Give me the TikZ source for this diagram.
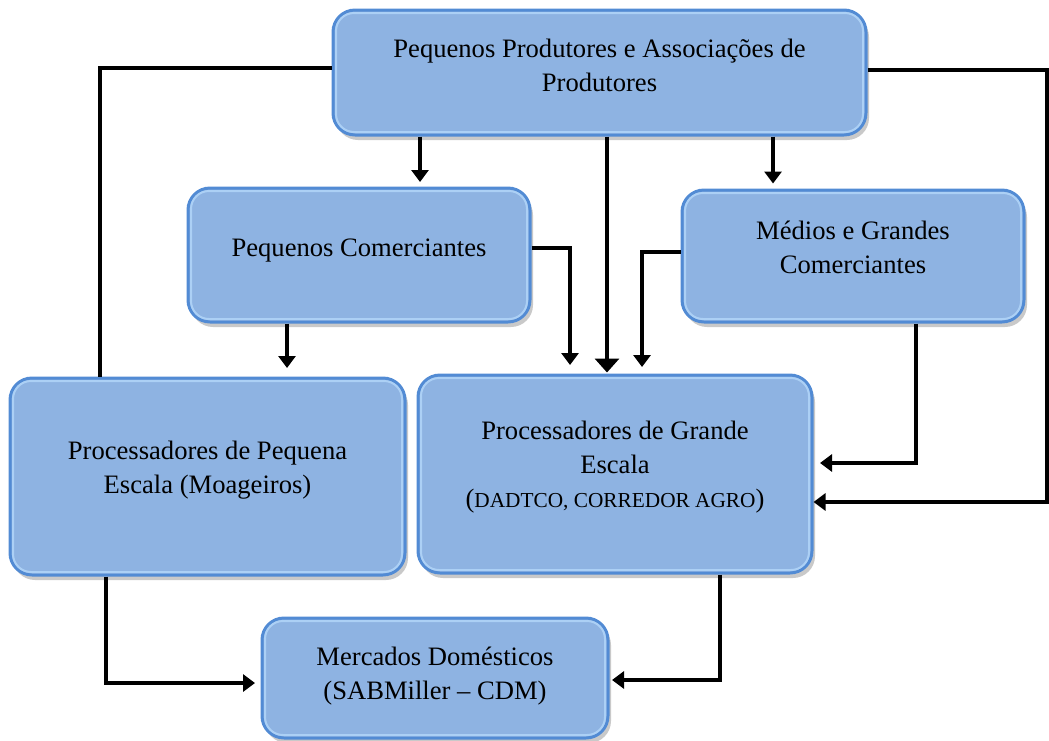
\documentclass[tikz,border=0pt]{standalone}
\usepackage{fontspec}
\setmainfont{Liberation Serif}
\usetikzlibrary{arrows.meta,shadows,calc}
\definecolor{boxfill}{RGB}{142,179,226}
\definecolor{boxedge}{RGB}{82,139,212}
\definecolor{boxglow}{RGB}{172,208,245}
\newcommand{\boxlbl}[2]{\raisebox{#1}[\height][\depth]{\begin{tabular}{@{}c@{}}#2\end{tabular}}}
\begin{document}
\begin{tikzpicture}[x=1pt,y=-1pt,
  box/.style={draw=boxedge, line width=3pt, fill=boxfill, rounded corners=22pt,
    drop shadow={shadow xshift=3pt,shadow yshift=-5pt,opacity=0.3,fill=black!70},
    font=\fontsize{26.6}{34}\selectfont, inner sep=0pt},
  glow/.style={draw=boxglow, line width=2pt, rounded corners=18pt},
  conn/.style={line width=4pt, draw=black},
  arr/.style={conn, -{Triangle[width=17pt,length=12pt]}},
  bigarr/.style={conn, -{Triangle[width=24pt,length=14pt]}}
]
\useasboundingbox (0,0) rectangle (1049,740);

\node[box, minimum width=533, minimum height=125] (pp) at (599.5,72.5)
  {\boxlbl{5pt}{Pequenos Produtores e Associações de\\Produtores}};
\node[box, minimum width=342, minimum height=134] (pc) at (359,255)
  {\boxlbl{5pt}{Pequenos Comerciantes}};
\node[box, minimum width=342, minimum height=132] (mg) at (853,256)
  {\boxlbl{6pt}{Médios e Grandes\\Comerciantes}};
\node[box, minimum width=395, minimum height=197] (ps) at (207.5,476.5)
  {\boxlbl{6.5pt}{Processadores de Pequena\\Escala (Moageiros)}};
\node[box, minimum width=394, minimum height=198] (pg) at (615,474)
  {\boxlbl{7pt}{Processadores de Grande\\Escala\\({\fontsize{21.3}{26}\selectfont DADTCO, CORREDOR AGRO})}};
\node[box, minimum width=346, minimum height=120] (md) at (435,678)
  {\boxlbl{2.5pt}{Mercados Domésticos\\(SABMiller – CDM)}};

\foreach \n in {pp,pc,mg,ps,pg,md}
  \draw[glow] ([shift={(4.5,4.5)}]\n.north west) rectangle ([shift={(-4.5,-4.5)}]\n.south east);

\coordinate (R1) at (1047,70);
\coordinate (R2) at (1047,502);

% producers to small processors (no arrow head)
\draw[conn] ($(pp.west)+(0,-4.5)$) -| ($(ps.north west)+(91.5,0)$);
% producers to large processors via right edge
\draw[arr] ($(pp.east)+(0,-2.5)$) -- (R1) -- (R2) -- (pg.east |- R2);
% producers downwards
\draw[arr, shorten >=4.5pt] ($(pp.south)+(-179.5,0)$) -- ($(pc.north)+(61,0)$);
\draw[bigarr, shorten >=1pt] ($(pp.south)+(7.5,0)$) -- ($(pg.north)+(-8,0)$);
\draw[arr, shorten >=5pt] ($(pp.south)+(173.5,0)$) -- ($(mg.north)+(-80,0)$);
% small traders
\draw[arr, shorten >=8.5pt] ($(pc.east)+(0,-7)$) -| ($(pg.north)+(-45,0)$);
\draw[arr, shorten >=8.5pt] ($(pc.south)+(-72,0)$) -- ($(ps.north)+(79.5,0)$);
% medium and large traders
\draw[arr, shorten >=6.5pt] ($(mg.west)+(0,-4)$) -| ($(pg.north)+(27,0)$);
\draw[arr, shorten >=6.5pt] ($(mg.south)+(63,0)$) |- ($(pg.east)+(0,-11)$);
% processors to domestic markets
\draw[arr, shorten >=5.5pt] ($(ps.south)+(-101.5,0)$) |- ($(md.west)+(0,5)$);
\draw[arr, shorten >=2.5pt] ($(pg.south)+(105,0)$) |- ($(md.east)+(0,2)$);
\end{tikzpicture}
\end{document}
